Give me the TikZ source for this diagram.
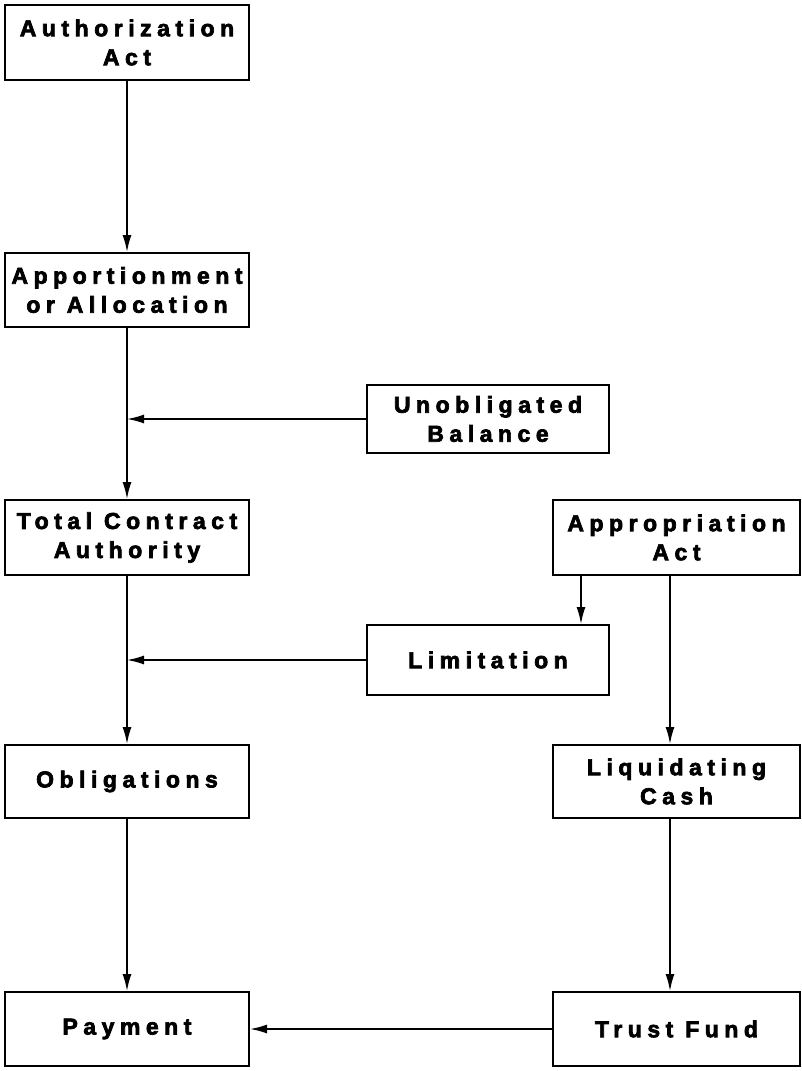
\documentclass[tikz,border=0pt]{standalone}
\usepackage{fontspec}
\setmainfont{Liberation Sans}
\newfontfamily\boxfont[LetterSpace=24,UprightFont=* Bold,FakeBold=3]{Liberation Sans}
\usetikzlibrary{arrows.meta}
\tikzset{
  box/.style={draw, line width=2pt, rectangle, inner sep=0pt, align=center,
    font=\boxfont\fontsize{23}{29}\selectfont},
  arr/.style={line width=1.6pt, -{Latex[length=17pt,width=9pt]}},
}
\begin{document}
\begin{tikzpicture}[x=1pt,y=-1pt]
\useasboundingbox (0,0) rectangle (801,1071);
\node[box, minimum width=244pt, minimum height=75pt] (auth) at (127,42.5) {Authorization\\Act};
\node[box, minimum width=244pt, minimum height=74pt] (appo) at (127,290) {Apportionment\\or Allocation};
\node[box, minimum width=242pt, minimum height=68pt] (unob) at (488,419) {Unobligated\\Balance};
\node[box, minimum width=244pt, minimum height=75pt] (tca) at (127,537.5) {Total Contract\\Authority};
\node[box, minimum width=247pt, minimum height=75pt] (appr) at (676.5,537.5) {Appropriation\\Act};
\node[box, minimum width=242pt, minimum height=70pt] (limi) at (488,660) {Limitation};
\node[box, minimum width=244pt, minimum height=73pt] (obli) at (127,781.5) {Obligations};
\node[box, minimum width=247pt, minimum height=73pt] (liqu) at (676.5,781.5) {Liquidating\\Cash};
\node[box, minimum width=244pt, minimum height=74pt] (paym) at (127,1029) {Payment};
\node[box, minimum width=247pt, minimum height=74pt] (trus) at (676.5,1029) {Trust Fund};

\draw[arr] (auth.south) -- (appo.north);
\draw[arr] (appo.south) -- (tca.north);
\draw[arr] (unob.west) -- (unob.west -| appo.south);
\draw[arr] (tca.south) -- (obli.north);
\draw[arr] (limi.west) -- (limi.west -| tca.south);
\draw[arr] ([xshift=29pt]appr.south west) -- ([xshift=29pt]appr.south west |- limi.north);
\draw[arr] ([xshift=-6.5pt]appr.south) -- ([xshift=-6.5pt]liqu.north);
\draw[arr] ([xshift=-6.5pt]liqu.south) -- ([xshift=-6.5pt]trus.north);
\draw[arr] (obli.south) -- (paym.north);
\draw[arr] (trus.west) -- (paym.east);
\end{tikzpicture}
\end{document}
